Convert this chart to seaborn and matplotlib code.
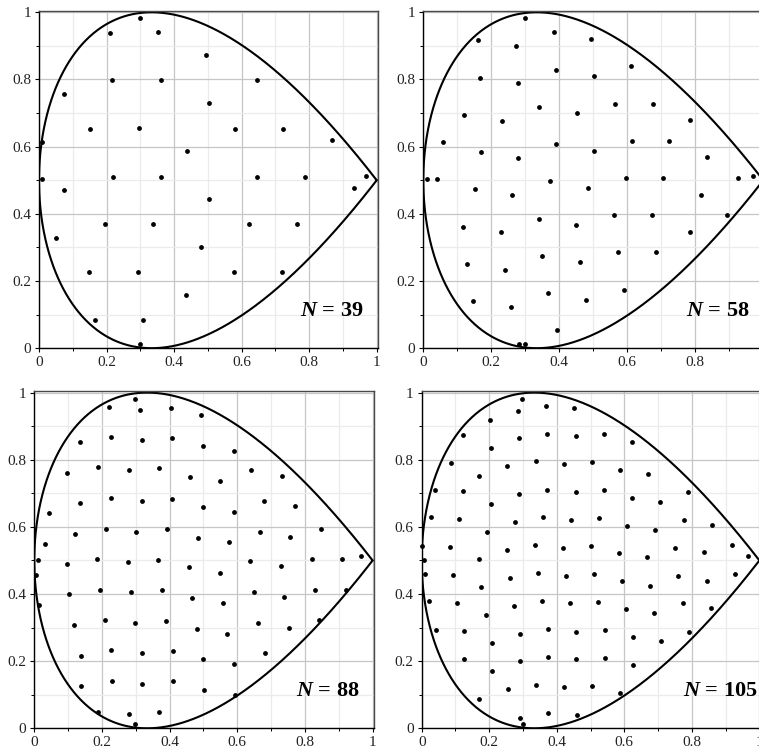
import numpy as np
import pandas as pd
import matplotlib
matplotlib.use("Agg")
import matplotlib.pyplot as plt
from matplotlib.ticker import MultipleLocator, FixedLocator, FixedFormatter
import seaborn as sns

# ---- node sets for the four panels ----
x39 = [0.299, 0.209, 0.352, 0.496, 0.217, 0.360, 0.646, 0.074, 0.502, 0.152, 0.295, 0.581, 0.724, 0.009, 0.867, 0.438,
       0.008, 0.218, 0.360, 0.646, 0.789, 0.968,
       0.075, 0.932, 0.503, 0.194, 0.337, 0.623, 0.765, 0.051, 0.480, 0.149, 0.292, 0.578, 0.721, 0.435, 0.165, 0.308, 0.299]
y39 = [0.982, 0.938, 0.940, 0.872, 0.797, 0.797, 0.797, 0.757, 0.729, 0.654, 0.655, 0.654, 0.654, 0.614, 0.620, 0.587,
       0.503, 0.511, 0.511, 0.511, 0.511, 0.512,
       0.471, 0.476, 0.444, 0.369, 0.369, 0.369, 0.369, 0.329, 0.301, 0.226, 0.226, 0.226, 0.226, 0.158, 0.083, 0.084, 0.013]

x58 = [0.300, 0.383, 0.162, 0.273, 0.494, 0.612, 0.390, 0.501, 0.168, 0.278, 0.341, 0.564, 0.675, 0.120, 0.452, 0.230,
       0.785, 0.057, 0.613, 0.724, 0.391, 0.169, 0.502, 0.279, 0.835,
       0.010, 0.040, 0.374, 0.595, 0.706, 0.927, 0.969, 0.151, 0.484, 0.262, 0.817, 0.562, 0.673, 0.894, 0.339, 0.450,
       0.118, 0.228, 0.783, 0.573, 0.683, 0.350, 0.461, 0.129, 0.239, 0.589, 0.368, 0.478, 0.146, 0.257, 0.393, 0.282, 0.300]
y58 = [0.982, 0.940, 0.917, 0.900, 0.921, 0.839, 0.829, 0.809, 0.805, 0.789, 0.718, 0.728, 0.728, 0.694, 0.699, 0.677,
       0.678, 0.615, 0.617, 0.618, 0.608, 0.584, 0.588, 0.567, 0.568,
       0.503, 0.505, 0.497, 0.507, 0.507, 0.507, 0.513, 0.473, 0.478, 0.456, 0.457, 0.397, 0.397, 0.397, 0.386, 0.366,
       0.362, 0.345, 0.345, 0.285, 0.285, 0.274, 0.256, 0.251, 0.234, 0.174, 0.163, 0.144, 0.140, 0.123, 0.053, 0.012, 0.013]

x88 = [0.299, 0.222, 0.312, 0.403, 0.494,
       0.135, 0.227, 0.317, 0.408, 0.499, 0.589,
       0.097, 0.187, 0.279, 0.368, 0.459, 0.550, 0.641, 0.732,
       0.044, 0.135, 0.227, 0.317, 0.408, 0.499, 0.589, 0.680, 0.770,
       0.031, 0.121, 0.212, 0.302, 0.393, 0.485, 0.575, 0.666, 0.757, 0.847,
       0.010, 0.096, 0.186, 0.277, 0.367, 0.458, 0.639, 0.730, 0.822, 0.911, 0.967,
       0.549, 0.005, 0.014,
       0.195, 0.103, 0.286, 0.376, 0.467, 0.558, 0.648, 0.739, 0.830, 0.920,
       0.117, 0.208, 0.299, 0.389, 0.480, 0.570, 0.661, 0.752, 0.843,
       0.137, 0.228, 0.319, 0.410, 0.500, 0.591, 0.682,
       0.138, 0.229, 0.319, 0.410, 0.501, 0.592,
       0.188, 0.280, 0.370,
       0.299]
y88 = [0.981, 0.958, 0.949, 0.955, 0.932,
       0.852, 0.867, 0.859, 0.865, 0.840, 0.826,
       0.761, 0.777, 0.768, 0.775, 0.749, 0.736, 0.769, 0.753,
       0.640, 0.670, 0.685, 0.677, 0.683, 0.659, 0.645, 0.678, 0.663,
       0.548, 0.579, 0.595, 0.586, 0.593, 0.568, 0.554, 0.586, 0.571, 0.595,
       0.502, 0.490, 0.505, 0.496, 0.502, 0.479, 0.497, 0.482, 0.505, 0.505, 0.513,
       0.464, 0.458, 0.368,
       0.413, 0.399, 0.405, 0.411, 0.387, 0.373, 0.405, 0.391, 0.413, 0.413,
       0.307, 0.323, 0.315, 0.320, 0.295, 0.281, 0.315, 0.299, 0.323,
       0.216, 0.232, 0.223, 0.230, 0.205, 0.191, 0.223,
       0.126, 0.141, 0.133, 0.140, 0.114, 0.100,
       0.050, 0.042, 0.048,
       0.012]

x105 = [0.298, 0.368, 0.284, 0.452, 0.202,
        0.123, 0.289, 0.372, 0.456, 0.539, 0.623, 0.206,
        0.087, 0.254, 0.337, 0.420, 0.503, 0.586, 0.670, 0.170,
        0.039, 0.123, 0.289, 0.372, 0.456, 0.539, 0.623, 0.706, 0.790, 0.206,
        0.027, 0.110, 0.276, 0.359, 0.442, 0.526, 0.609, 0.692, 0.776, 0.859, 0.192,
        0.001, 0.085, 0.252, 0.335, 0.419, 0.501, 0.585, 0.668, 0.751, 0.835, 0.919, 0.967, 0.008, 0.169,
        0.009, 0.094, 0.177, 0.261, 0.344, 0.427, 0.510, 0.594, 0.677, 0.760, 0.844, 0.927,
        0.023, 0.106, 0.190, 0.272, 0.356, 0.439, 0.523, 0.606, 0.689, 0.773, 0.856,
        0.041, 0.124, 0.208, 0.291, 0.375, 0.458, 0.542, 0.625, 0.708, 0.792,
        0.125, 0.208, 0.291, 0.375, 0.458, 0.542, 0.625,
        0.171, 0.255, 0.338, 0.422, 0.504, 0.588,
        0.292, 0.375, 0.459,
        0.299]
y105 = [0.981, 0.961, 0.946, 0.953, 0.919,
        0.873, 0.864, 0.878, 0.870, 0.876, 0.853, 0.835,
        0.790, 0.781, 0.795, 0.787, 0.793, 0.770, 0.757, 0.752,
        0.710, 0.706, 0.697, 0.711, 0.703, 0.709, 0.686, 0.673, 0.704, 0.669,
        0.628, 0.624, 0.614, 0.628, 0.621, 0.627, 0.604, 0.591, 0.621, 0.607, 0.586,
        0.544, 0.540, 0.532, 0.545, 0.538, 0.544, 0.522, 0.509, 0.538, 0.525, 0.545, 0.512, 0.502, 0.504,
        0.461, 0.457, 0.420, 0.448, 0.462, 0.454, 0.460, 0.438, 0.425, 0.455, 0.440, 0.461,
        0.378, 0.374, 0.337, 0.365, 0.379, 0.372, 0.377, 0.355, 0.342, 0.372, 0.358,
        0.294, 0.290, 0.254, 0.281, 0.295, 0.288, 0.293, 0.271, 0.259, 0.288,
        0.207, 0.170, 0.199, 0.212, 0.205, 0.209, 0.188,
        0.088, 0.116, 0.130, 0.123, 0.127, 0.105,
        0.032, 0.046, 0.039,
        0.012]

panel_counts = [39, 58, 88, 105]
tick_values = [0, 0.2, 0.4, 0.6, 0.8, 1]
tick_labels = ["0", "0.2", "0.4", "0.6", "0.8", "1"]

# ---- style ----
sns.set_style("white")
plt.rcParams["font.family"] = ["Liberation Serif", "DejaVu Serif"]
plt.rcParams["mathtext.fontset"] = "custom"
plt.rcParams["mathtext.it"] = "Liberation Serif:italic:bold"
plt.rcParams["mathtext.rm"] = "Liberation Serif:bold"

W, H = 759, 755
fig = plt.figure(figsize=(W / 100, H / 100), dpi=100)

# axes boxes in pixels: (x of data 0, pixels per unit x, y of data 0, pixels per unit y)
boxes = [
    (39.0, 337.7, 348.2, 335.9),
    (423.3, 340.0, 348.2, 335.9),
    (34.3, 338.3, 728.3, 335.7),
    (421.7, 337.7, 728.3, 335.7),
]
span = 1.004

# teardrop boundary: x = (1 + cos t)/2, y = 1/2 + (3*sqrt(3)/8) sin t sin(t/2)
t = np.linspace(0, 2 * np.pi, 1200)
boundary = pd.DataFrame({
    "x": (1 + np.cos(t)) / 2,
    "y": 0.5 + (3 * np.sqrt(3) / 8) * np.sin(t) * np.sin(t / 2),
})

sets = [(x39, y39), (x58, y58), (x88, y88), (x105, y105)]

for i, ((xs, ys), n, (x0, ux, y0, uy)) in enumerate(zip(sets, panel_counts, boxes)):
    w = span * ux
    h = span * uy
    ax = fig.add_axes([x0 / W, (H - y0) / H, w / W, h / H])
    ax.set_xlim(0, span)
    ax.set_ylim(0, span)

    # the top-right panel runs past the figure edge, so its last x label is left out
    xlabels = list(tick_labels)
    if i == 1:
        xlabels[-1] = ""
    ax.xaxis.set_major_locator(FixedLocator(tick_values))
    ax.xaxis.set_major_formatter(FixedFormatter(xlabels))
    ax.yaxis.set_major_locator(FixedLocator(tick_values))
    ax.yaxis.set_major_formatter(FixedFormatter(tick_labels))
    ax.xaxis.set_minor_locator(MultipleLocator(0.1))
    ax.yaxis.set_minor_locator(MultipleLocator(0.1))

    ax.grid(which="major", color="#c6c6c6", linewidth=0.9)
    ax.grid(which="minor", color="#ebebeb", linewidth=0.9)
    ax.set_axisbelow(True)

    ax.tick_params(which="major", direction="out", length=3.2, width=0.8,
                   color="black", labelsize=11, labelcolor="#222222", pad=2.5,
                   bottom=True, left=True, top=False, right=False)
    ax.tick_params(which="minor", direction="out", length=2.0, width=0.7,
                   color="black", bottom=True, left=True, top=False, right=False)

    for side in ("left", "bottom"):
        ax.spines[side].set_color("black")
        ax.spines[side].set_linewidth(1.0)
    for side in ("top", "right"):
        ax.spines[side].set_color("#4a4a4a")
        ax.spines[side].set_linewidth(1.0)
        ax.spines[side].set_visible(True)

    sns.lineplot(data=boundary, x="x", y="y", sort=False, estimator=None,
                 color="black", linewidth=1.5, ax=ax)
    sns.scatterplot(x=xs, y=ys, s=12, color="black", linewidth=0, ax=ax,
                    clip_on=False, zorder=3)

    ax.set_xlabel("")
    ax.set_ylabel("")
    ax.text(0.773, 0.097, rf"$N$ = {n}", fontsize=16, fontweight="bold",
            ha="left", va="baseline", color="black")

fig.savefig("out.png", dpi=100)
